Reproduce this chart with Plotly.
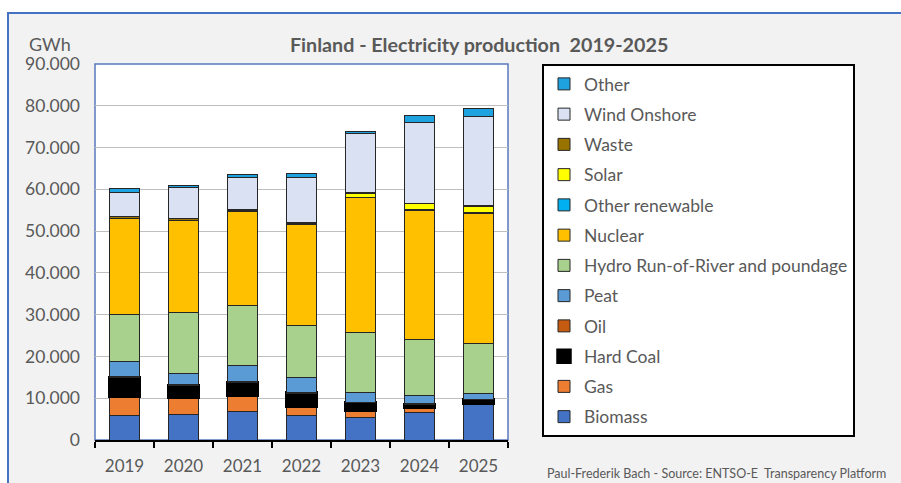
import plotly.graph_objects as go

years = ["2019", "2020", "2021", "2022", "2023", "2024", "2025"]

biomass = [5900, 6170, 6720, 5940, 5470, 6480, 8550]
gas = [4650, 3950, 4020, 2070, 1760, 1330, 350]
hard_coal = [4450, 2890, 3050, 3200, 1640, 670, 700]
oil = [250, 200, 200, 150, 150, 150, 150]
peat = [3550, 2650, 3740, 3720, 2310, 1990, 1420]
hydro = [11350, 14610, 14500, 12370, 14440, 13480, 11960]
nuclear = [22790, 22020, 22410, 24160, 32320, 30940, 31120]
other_renewable = [50, 50, 50, 50, 50, 100, 100]
solar = [100, 120, 150, 200, 900, 1400, 1500]
waste = [500, 400, 250, 250, 150, 150, 350]
wind_onshore = [5600, 7320, 7690, 10820, 14110, 19410, 21260]
other = [950, 570, 800, 800, 640, 1500, 1820]

series = [
    ("Biomass", biomass, "#4472C4"),
    ("Gas", gas, "#ED7D31"),
    ("Hard Coal", hard_coal, "#000000"),
    ("Oil", oil, "#C55A11"),
    ("Peat", peat, "#5B9BD5"),
    ("Hydro Run-of-River and poundage", hydro, "#A9D18E"),
    ("Nuclear", nuclear, "#FFC000"),
    ("Other renewable", other_renewable, "#00B0F0"),
    ("Solar", solar, "#FFFF00"),
    ("Waste", waste, "#997300"),
    ("Wind Onshore", wind_onshore, "#D9E1F2"),
    ("Other", other, "#1FA2E0"),
]

W, H = 901, 483
L, R, T, B = 95, 508, 64, 440


def fx(px):
    return (px - L) / (R - L)


def fy(py):
    return 1 - (py - T) / (B - T)


TXT = "#595959"
FONT = "Lato"

fig = go.Figure()
n = len(series)
for i, (name, vals, col) in enumerate(series):
    lw = 3.5 if name == "Hard Coal" else 1
    lc = "#000000" if name == "Hard Coal" else "#262626"
    fig.add_trace(go.Bar(
        x=years, y=vals, name=name, legendgroup=name, legendrank=n - i,
        marker=dict(color=col, line=dict(color=lc, width=lw)),
        hovertemplate="%{x}: %{y:,.0f} GWh<extra>" + name + "</extra>",
    ))

fig.update_layout(
    width=W, height=H,
    margin=dict(l=L, r=W - R, t=T, b=H - B, pad=0, autoexpand=False),
    paper_bgcolor="white", plot_bgcolor="white",
    barmode="stack", bargap=0.5,
    separators=",.",
    font=dict(family=FONT, color=TXT, size=16),
    showlegend=True,
    legend=dict(
        x=fx(542), xanchor="left", y=1, yanchor="top",
        bgcolor="white", bordercolor="#000000", borderwidth=2,
        traceorder="grouped", tracegroupgap=4.5,
        font=dict(family=FONT, color=TXT, size=17.5),
        itemclick=False, itemdoubleclick=False,
    ),
    xaxis=dict(
        showline=True, linecolor="#000000", linewidth=2,
        ticks="outside", tickson="boundaries", ticklen=6, tickwidth=2, tickcolor="#000000",
        ticklabelstandoff=10,
        tickfont=dict(family=FONT, color=TXT, size=17),
        showgrid=False, fixedrange=True,
    ),
    yaxis=dict(
        range=[0, 90000], dtick=10000, tickformat=",d",
        showgrid=True, gridcolor="#BFBFBF", gridwidth=1,
        zeroline=False, showline=False, ticks="",
        ticklabelstandoff=14,
        tickfont=dict(family=FONT, color=TXT, size=17.5),
        fixedrange=True,
    ),
    shapes=[
        dict(type="rect", xref="paper", yref="paper", layer="below",
             x0=fx(8), x1=fx(910), y0=fy(13), y1=fy(500),
             fillcolor="#F2F2F2", line=dict(color="#4472C4", width=2)),
        dict(type="rect", xref="paper", yref="paper", layer="below",
             x0=0, x1=1, y0=0, y1=1,
             fillcolor="white", line=dict(color="#5A78BE", width=1.5)),
    ],
    annotations=[
        dict(text="Finland - Electricity production  2019-2025", xref="paper", yref="paper",
             x=fx(479), y=fy(44), xanchor="center", yanchor="middle", showarrow=False,
             font=dict(family=FONT, color=TXT, size=19.7, weight="bold")),
        dict(text="GWh", xref="paper", yref="paper",
             x=fx(27), y=fy(44), xanchor="left", yanchor="middle", showarrow=False,
             font=dict(family=FONT, color=TXT, size=18)),
        dict(text="Paul-Frederik Bach - Source: ENTSO-E  Transparency Platform", xref="paper", yref="paper",
             x=fx(888), y=fy(473), xanchor="right", yanchor="middle", showarrow=False,
             font=dict(family=FONT, color=TXT, size=12.5)),
    ],
)

fig.write_html("out.html", config={"displayModeBar": False},
               post_script="document.body.style.margin='0';")
